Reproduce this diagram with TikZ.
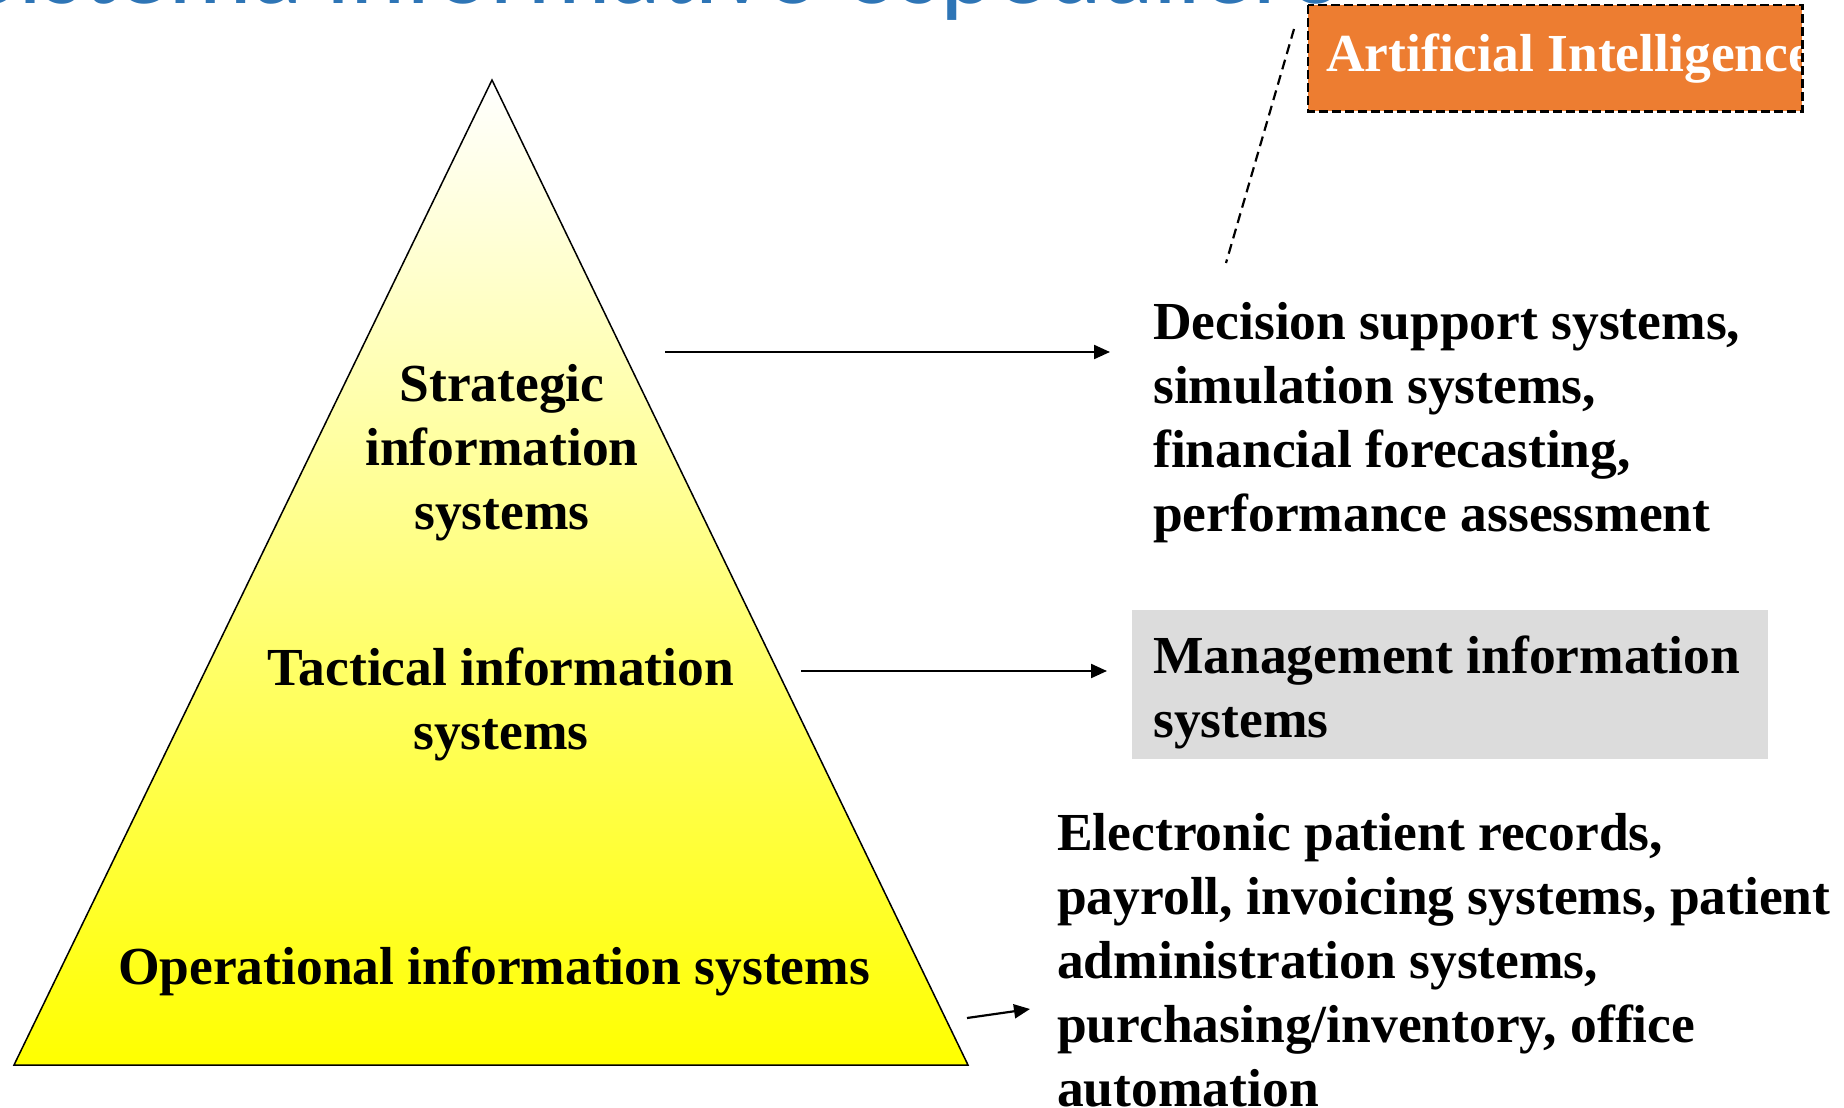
\documentclass[tikz,border=0pt]{standalone}
\usepackage{fontspec}
\setmainfont{Liberation Serif}
\newfontfamily\titlefont{Carlito}
\usetikzlibrary{arrows.meta}
\definecolor{titleblue}{HTML}{2E75B6}
\definecolor{aiorange}{HTML}{ED7D31}
\definecolor{mgrey}{HTML}{DCDCDC}
\definecolor{pyellow}{HTML}{FFFF00}
\tikzset{
  lbl/.style={inner sep=0pt, font=\fontsize{53.5}{64}\selectfont\bfseries},
  arr/.style={line width=2.2pt, -{Triangle[length=16pt,width=14pt]}},
  aidash/.style={dash pattern=on 10pt off 6pt, line width=2.2pt},
}
\begin{document}
\begin{tikzpicture}[x=1pt,y=-1pt]
\useasboundingbox (0,0) rectangle (1844,1108);
% cut-off title
\begin{scope}
  \clip (0,0) rectangle (1844,1108);
  \node[anchor=base west, inner sep=0pt, text=titleblue,
        font=\titlefont\fontsize{105}{120}\selectfont] (title) at (-30,4)
        {Sistema informativo ospedaliero};
\end{scope}
% pyramid
\coordinate (apex) at (492,80);
\coordinate (bl) at (14,1065);
\coordinate (br) at (968,1065);
\shade[top color=white, middle color=pyellow!28!white, bottom color=pyellow] (apex) -- (br) -- (bl) -- cycle;
\draw[line width=1.5pt] (apex) -- (br) -- (bl) -- cycle;
\node[lbl, anchor=north, align=center] (strat) at (502,361)
  {\rule{0pt}{40pt}Strategic\\information\\systems};
\node[lbl, anchor=north, align=center] (tact) at (501,645)
  {\rule{0pt}{40pt}Tactical information\\systems};
\node[lbl, anchor=base] (oper) at (494,984) {Operational information systems};
% right side texts
\node[lbl, anchor=north west, align=left] (dss) at (1153,299)
  {\rule{0pt}{40pt}Decision support systems,\\simulation systems,\\financial forecasting,\\performance assessment};
\node[fill=mgrey, anchor=north west, minimum width=636pt, minimum height=149pt, inner sep=0pt] (misbox) at (1132,610) {};
\node[lbl, anchor=north west, align=left] (mis) at (1153,633)
  {\rule{0pt}{40pt}Management information\\systems};
\node[lbl, anchor=north west, align=left] (ops) at (1057,810)
  {\rule{0pt}{40pt}Electronic patient records,\\payroll, invoicing systems, patient\\administration systems,\\purchasing/inventory, office\\automation};
% AI box
\node[fill=aiorange, anchor=north west, minimum width=494pt, minimum height=106pt, inner sep=0pt] (aibox) at (1308,5) {};
\begin{scope}
  \clip (aibox.north west) rectangle (aibox.south east);
  \node[lbl, text=white, anchor=base west] (ai) at (1326,71) {Artificial Intelligence};
\end{scope}
\draw[dash pattern=on 9pt off 4pt, line width=2.6pt] (aibox.north west) rectangle (aibox.south east);
\coordinate (d1) at (1294,29);
\coordinate (d2) at (1226,263);
\draw[aidash] (d1) -- (d2);
% arrows
\coordinate (a1s) at (665,352);
\coordinate (a1e) at (1110,352);
\coordinate (a2s) at (801,671);
\coordinate (a2e) at (1107,671);
\coordinate (a3s) at (967,1018);
\coordinate (a3e) at (1030,1009);
\draw[arr] (a1s) -- (a1e);
\draw[arr] (a2s) -- (a2e);
\draw[arr] (a3s) -- (a3e);
\end{tikzpicture}
\end{document}
